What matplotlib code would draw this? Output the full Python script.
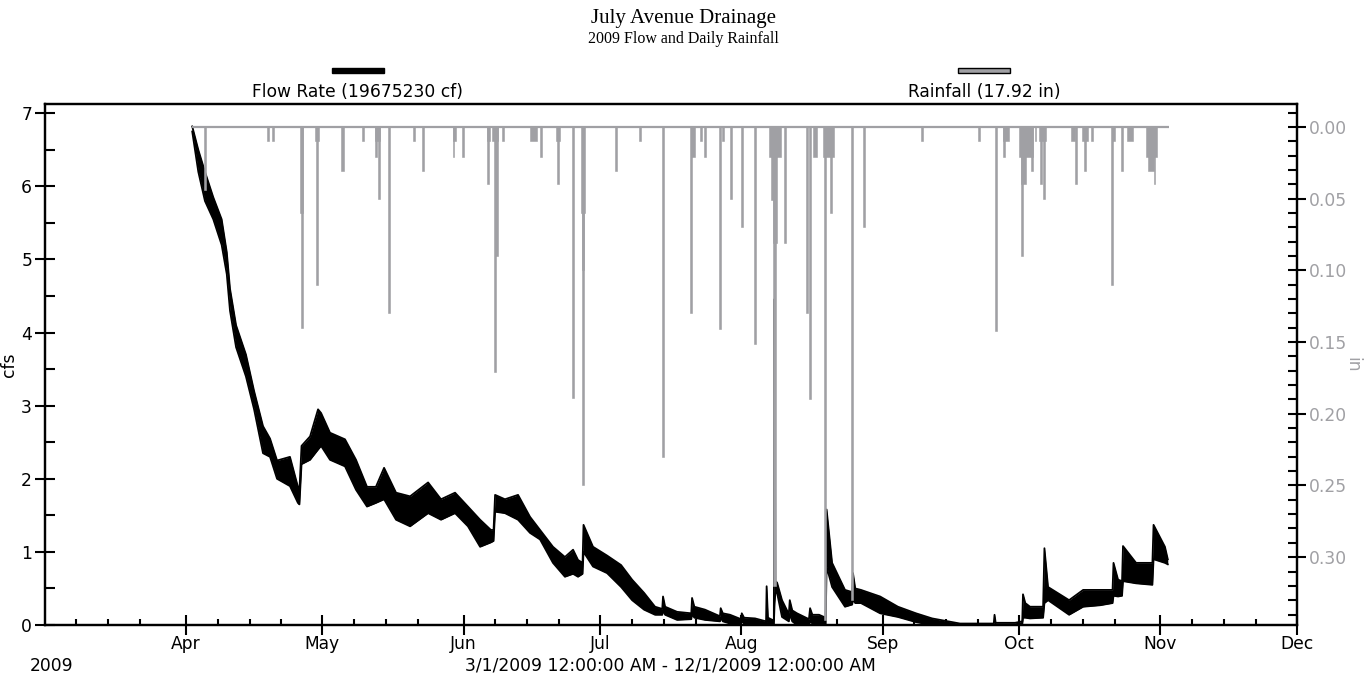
import matplotlib
matplotlib.use("Agg")
import matplotlib.pyplot as plt
import matplotlib.dates as mdates
from matplotlib.patches import Rectangle
from matplotlib.ticker import FixedLocator, FormatStrFormatter
import pandas as pd

# ---------------------------------------------------------------------------
# Flow record (cfs): low / high envelope of the logged series at sample times
# ---------------------------------------------------------------------------
flow_time = [
    "2009-04-02 10:00", "2009-04-03 18:00", "2009-04-05 05:00", "2009-04-07 01:00",
    "2009-04-08 21:00", "2009-04-10 00:00", "2009-04-10 17:00", "2009-04-12 01:00",
    "2009-04-14 05:00", "2009-04-16 00:00", "2009-04-17 23:00", "2009-04-19 12:00",
    "2009-04-21 01:00", "2009-04-23 21:00", "2009-04-25 15:00", "2009-04-25 23:00",
    "2009-04-26 10:00", "2009-04-28 07:00", "2009-04-30 01:00", "2009-04-30 17:00",
    "2009-05-02 16:00", "2009-05-05 23:00", "2009-05-08 09:00", "2009-05-10 19:00",
    "2009-05-12 18:00", "2009-05-14 13:00", "2009-05-17 04:00", "2009-05-20 06:00",
    "2009-05-24 05:00", "2009-05-27 01:00", "2009-05-30 03:00", "2009-06-01 23:00",
    "2009-06-04 15:00", "2009-06-07 00:00", "2009-06-07 14:00", "2009-06-07 22:00",
    "2009-06-10 02:00", "2009-06-12 23:00", "2009-06-15 14:00", "2009-06-17 19:00",
    "2009-06-20 15:00", "2009-06-23 06:00", "2009-06-25 01:00", "2009-06-26 03:00",
    "2009-06-27 03:00", "2009-06-27 08:00", "2009-06-29 10:00", "2009-07-02 12:00",
    "2009-07-05 14:00", "2009-07-08 00:00", "2009-07-10 15:00", "2009-07-13 01:00",
    "2009-07-14 15:00", "2009-07-14 19:00", "2009-07-15 06:00", "2009-07-17 21:00",
    "2009-07-21 00:00", "2009-07-21 04:00", "2009-07-21 16:00", "2009-07-24 00:00",
    "2009-07-27 07:00", "2009-07-27 11:00", "2009-07-27 22:00", "2009-07-29 12:00",
    "2009-07-31 22:00", "2009-08-01 02:00", "2009-08-01 14:00", "2009-08-04 00:00",
    "2009-08-06 10:00", "2009-08-06 13:00", "2009-08-06 20:00", "2009-08-08 03:00",
    "2009-08-08 07:00", "2009-08-08 11:00", "2009-08-08 20:00", "2009-08-09 22:00",
    "2009-08-11 10:00", "2009-08-11 15:00", "2009-08-12 04:00", "2009-08-13 05:00",
    "2009-08-15 20:00", "2009-08-16 02:00", "2009-08-16 14:00", "2009-08-18 01:00",
    "2009-08-19 12:00", "2009-08-19 17:00", "2009-08-20 22:00", "2009-08-23 18:00",
    "2009-08-25 08:00", "2009-08-25 12:00", "2009-08-26 00:00", "2009-08-27 06:00",
    "2009-08-31 11:00", "2009-09-04 09:00", "2009-09-08 08:00", "2009-09-11 21:00",
    "2009-09-18 00:00", "2009-09-25 10:00", "2009-09-25 14:00", "2009-09-25 20:00",
    "2009-09-30 02:00", "2009-10-01 16:00", "2009-10-01 20:00", "2009-10-02 08:00",
    "2009-10-03 09:00", "2009-10-06 06:00", "2009-10-06 13:00", "2009-10-07 08:00",
    "2009-10-11 23:00", "2009-10-15 01:00", "2009-10-18 18:00", "2009-10-21 12:00",
    "2009-10-21 17:00", "2009-10-22 17:00", "2009-10-23 14:00", "2009-10-23 19:00",
    "2009-10-26 16:00", "2009-10-30 06:00", "2009-10-30 12:00", "2009-11-02 00:00",
    "2009-11-02 15:00",
]
flow_low = [
    6.75, 6.20, 5.80, 5.55, 5.20, 4.80, 4.30, 3.80, 3.40, 2.95, 2.35, 2.30,
    2.00, 1.90, 1.67, 1.65, 2.20, 2.26, 2.40, 2.45, 2.26, 2.17, 1.85, 1.62,
    1.67, 1.72, 1.44, 1.35, 1.53, 1.44, 1.53, 1.35, 1.07, 1.13, 1.15, 1.55,
    1.53, 1.44, 1.26, 1.17, 0.85, 0.66, 0.70, 0.66, 0.70, 1.00, 0.80, 0.71,
    0.52, 0.34, 0.21, 0.14, 0.14, 0.20, 0.14, 0.07, 0.08, 0.15, 0.10, 0.07,
    0.05, 0.10, 0.05, 0.02, 0.02, 0.05, 0.02, 0.00, 0.00, 0.05, 0.00, 0.00,
    0.30, 0.44, 0.44, 0.11, 0.05, 0.15, 0.05, 0.00, 0.00, 0.05, 0.02, 0.02,
    0.00, 0.80, 0.52, 0.25, 0.28, 0.35, 0.30, 0.30, 0.16, 0.11, 0.04, 0.00,
    0.00, 0.00, 0.00, 0.00, 0.00, 0.00, 0.10, 0.10, 0.09, 0.10, 0.30, 0.34,
    0.14, 0.25, 0.27, 0.30, 0.40, 0.39, 0.40, 0.60, 0.57, 0.55, 0.90, 0.85,
    0.83,
]
flow_high = [
    6.82, 6.50, 6.20, 5.85, 5.55, 5.10, 4.60, 4.10, 3.70, 3.20, 2.72, 2.55,
    2.25, 2.30, 1.89, 1.85, 2.45, 2.58, 2.95, 2.90, 2.63, 2.54, 2.26, 1.89,
    1.89, 2.15, 1.81, 1.76, 1.95, 1.72, 1.81, 1.62, 1.44, 1.30, 1.30, 1.78,
    1.72, 1.78, 1.48, 1.30, 1.07, 0.93, 1.03, 0.89, 0.85, 1.37, 1.07, 0.95,
    0.82, 0.62, 0.44, 0.25, 0.22, 0.39, 0.25, 0.18, 0.16, 0.37, 0.25, 0.21,
    0.12, 0.23, 0.16, 0.14, 0.08, 0.16, 0.10, 0.09, 0.05, 0.53, 0.10, 0.06,
    4.46, 0.60, 0.58, 0.34, 0.15, 0.34, 0.20, 0.16, 0.08, 0.23, 0.14, 0.14,
    0.10, 1.58, 0.85, 0.48, 0.45, 0.71, 0.50, 0.48, 0.39, 0.25, 0.16, 0.09,
    0.02, 0.02, 0.14, 0.03, 0.03, 0.05, 0.42, 0.30, 0.25, 0.25, 1.05, 0.52,
    0.34, 0.48, 0.48, 0.48, 0.85, 0.62, 0.60, 1.08, 0.85, 0.85, 1.37, 1.07,
    0.90,
]

# ---------------------------------------------------------------------------
# Rainfall (in): recorded bursts with their depth and duration in hours
# ---------------------------------------------------------------------------
rain_time = [
    "2009-04-05 05:00", "2009-04-19 01:00", "2009-04-20 04:00", "2009-04-26 12:00",
    "2009-04-26 12:00", "2009-04-29 20:00", "2009-04-29 20:00", "2009-05-05 10:00",
    "2009-05-09 22:00", "2009-05-13 00:00", "2009-05-12 17:00", "2009-05-13 10:00",
    "2009-05-15 15:00", "2009-05-21 02:00", "2009-05-23 02:00", "2009-05-29 19:00",
    "2009-05-29 23:00", "2009-05-31 21:00", "2009-06-06 10:00", "2009-06-06 09:00",
    "2009-06-07 23:00", "2009-06-08 05:00", "2009-06-07 21:00", "2009-06-09 16:00",
    "2009-06-16 08:00", "2009-06-18 00:00", "2009-06-21 16:00", "2009-06-21 16:00",
    "2009-06-25 01:00", "2009-06-27 07:00", "2009-06-27 07:00", "2009-06-27 07:00",
    "2009-07-04 12:00", "2009-07-09 18:00", "2009-07-14 20:00", "2009-07-20 23:00",
    "2009-07-21 09:00", "2009-07-23 03:00", "2009-07-24 02:00", "2009-07-27 05:00",
    "2009-07-27 22:00", "2009-07-29 19:00", "2009-08-01 02:00", "2009-08-04 01:00",
    "2009-08-08 08:00", "2009-08-08 01:00", "2009-08-08 08:00", "2009-08-08 07:00",
    "2009-08-10 16:00", "2009-08-15 09:00", "2009-08-16 00:00", "2009-08-17 04:00",
    "2009-08-20 04:00", "2009-08-19 09:00", "2009-08-20 17:00", "2009-08-25 06:00",
    "2009-08-28 00:00", "2009-09-09 15:00", "2009-09-22 06:00", "2009-09-25 21:00",
    "2009-09-27 17:00", "2009-09-28 02:00", "2009-10-02 12:00", "2009-10-01 23:00",
    "2009-10-01 14:00", "2009-10-03 18:00", "2009-10-04 14:00", "2009-10-06 03:00",
    "2009-10-05 17:00", "2009-10-06 09:00", "2009-10-12 20:00", "2009-10-13 12:00",
    "2009-10-15 11:00", "2009-10-15 09:00", "2009-10-16 22:00", "2009-10-21 17:00",
    "2009-10-21 10:00", "2009-10-23 13:00", "2009-10-25 08:00", "2009-10-30 02:00",
    "2009-10-29 22:00", "2009-10-30 17:00",
]
rain_depth = [
    0.044, 0.010, 0.010, 0.140, 0.060, 0.110, 0.010, 0.031,
    0.010, 0.010, 0.021, 0.050, 0.130, 0.010, 0.031, 0.021,
    0.010, 0.021, 0.010, 0.040, 0.010, 0.090, 0.171, 0.010,
    0.010, 0.021, 0.040, 0.010, 0.189, 0.250, 0.100, 0.060,
    0.031, 0.010, 0.230, 0.130, 0.021, 0.010, 0.021, 0.141,
    0.010, 0.050, 0.070, 0.151, 0.021, 0.051, 0.081, 0.320,
    0.081, 0.130, 0.190, 0.021, 0.021, 0.344, 0.060, 0.330,
    0.070, 0.010, 0.010, 0.142, 0.021, 0.010, 0.021, 0.040,
    0.090, 0.031, 0.010, 0.010, 0.040, 0.050, 0.010, 0.040,
    0.010, 0.031, 0.010, 0.010, 0.110, 0.031, 0.010, 0.021,
    0.031, 0.040,
]
rain_hours = [
    10, 10, 10, 10, 16, 10, 20, 16,
    10, 26, 10, 10, 10, 10, 10, 10,
    18, 10, 18, 10, 32, 14, 10, 10,
    35, 10, 10, 20, 10, 10, 12, 21,
    10, 10, 10, 10, 22, 10, 10, 10,
    10, 10, 10, 10, 64, 26, 24, 12,
    10, 10, 10, 21, 60, 10, 10, 10,
    10, 10, 10, 10, 10, 32, 75, 26,
    10, 10, 10, 40, 10, 10, 20, 10,
    30, 10, 10, 20, 10, 10, 30, 60,
    30, 10,
]
rain_start = "2009-04-02 10:00"
rain_end = "2009-11-02 22:00"

period_start = "2009-03-01"
period_end = "2009-12-01"

title = "July Avenue Drainage"
subtitle = "2009 Flow and Daily Rainfall"
flow_total_cf = 19675230
rain_total_in = 17.92
flow_unit = "cfs"
rain_unit = "in"
flow_ticks = [0, 1, 2, 3, 4, 5, 6, 7]
rain_ticks = [0.00, 0.05, 0.10, 0.15, 0.20, 0.25, 0.30]

GREY = "#a0a0a4"
SANS = "DejaVu Sans"
SERIF = "Liberation Serif"
FS = 12.3

W_PX, H_PX = 1367, 679
fig = plt.figure(figsize=(W_PX / 100, H_PX / 100), dpi=100)

# plot frame in pixels
x0, x1 = 44.6, 1297.0
y_top, y_bot = 104.5, 625.0
ax = fig.add_axes([x0 / W_PX, 1 - y_bot / H_PX, (x1 - x0) / W_PX, (y_bot - y_top) / H_PX])


def dnum(values):
    return mdates.date2num(pd.to_datetime(values).to_pydatetime())


# flow band
t_flow = dnum(flow_time)
ax.fill_between(t_flow, flow_low, flow_high, color="black", lw=0)
ax.plot(t_flow, flow_low, color="black", lw=1.3)
ax.plot(t_flow, flow_high, color="black", lw=1.3)

ax.set_xlim(dnum([period_start])[0], dnum([period_end])[0])
ax.set_ylim(0, 7.12)

# rainfall hangs from the top on an inverted axis
ax2 = ax.twinx()
t_rain = dnum(rain_time)
ax2.hlines(0, dnum([rain_start])[0], dnum([rain_end])[0], color=GREY, lw=1.6)
ax2.bar(t_rain, rain_depth, width=[h / 24 for h in rain_hours], bottom=0,
        color=GREY, edgecolor=GREY, linewidth=0.4, align="center")
ax2.set_ylim(0.3473, -0.0157)

# axes styling
for a in (ax, ax2):
    for s in a.spines.values():
        s.set_linewidth(1.6)
        s.set_color("black")

ax.xaxis.set_major_locator(mdates.MonthLocator(bymonth=range(4, 13)))
ax.xaxis.set_major_formatter(mdates.DateFormatter("%b"))
ax.xaxis.set_minor_locator(mdates.DayLocator(bymonthday=[8, 15, 22]))
ax.tick_params(axis="x", which="major", direction="inout", length=14, width=1.5,
               pad=0.5, labelsize=FS)
ax.tick_params(axis="x", which="minor", direction="in", length=4.5, width=1.5)

ax.yaxis.set_major_locator(FixedLocator(flow_ticks))
ax.yaxis.set_minor_locator(FixedLocator([v + 0.5 for v in flow_ticks[:-1]]))
ax.tick_params(axis="y", which="major", direction="inout", length=14, width=1.5,
               pad=2, labelsize=FS)
ax.tick_params(axis="y", which="minor", direction="in", length=7, width=1.5)

ax2.yaxis.set_major_locator(FixedLocator(rain_ticks))
ax2.yaxis.set_major_formatter(FormatStrFormatter("%.2f"))
ax2.yaxis.set_minor_locator(FixedLocator([i / 100 for i in range(-1, 35)]))
ax2.tick_params(axis="y", which="major", direction="inout", length=13, width=1.5,
                pad=2, labelsize=FS, labelcolor=GREY)
ax2.tick_params(axis="y", which="minor", direction="in", length=6.5, width=1.5)

for lab in ax.get_xticklabels() + ax.get_yticklabels() + ax2.get_yticklabels():
    lab.set_fontfamily(SANS)

ax.set_ylabel(flow_unit, family=SANS, fontsize=FS)
ax.yaxis.set_label_coords((18 - x0) / (x1 - x0), 0.5)
ax2.set_ylabel(rain_unit, family=SANS, fontsize=FS, color=GREY, rotation=-90,
               va="center", ha="center")
ax2.yaxis.set_label_coords((1352 - x0) / (x1 - x0), 0.5)

# titles
fig.text(0.5, 1 - 18 / H_PX, title, ha="center", va="center", family=SERIF, fontsize=15)
fig.text(0.5, 1 - 39 / H_PX, subtitle, ha="center", va="center", family=SERIF, fontsize=11.5)


def fx(px):
    return px / W_PX


def fy(py):
    return 1 - py / H_PX


# legend: swatch above each caption, at a quarter and three quarters of the frame
sw_w, sw_h = 52, 5
for frac, caption, face, edge in [
    (0.25, f"Flow Rate ({flow_total_cf} cf)", "black", "black"),
    (0.75, f"Rainfall ({rain_total_in:.2f} in)", GREY, "black"),
]:
    cx = x0 + frac * (x1 - x0)
    fig.patches.append(Rectangle((fx(cx - sw_w / 2), fy(73)), fx(sw_w), sw_h / H_PX,
                                 transform=fig.transFigure, facecolor=face,
                                 edgecolor=edge, linewidth=1.0))
    fig.text(fx(cx), fy(92), caption, ha="center", va="center", family=SANS, fontsize=FS)

# period caption under the time axis
fig.text(fx(30), fy(666), "2009", ha="left", va="center", family=SANS, fontsize=FS)
fig.text(fx((x0 + x1) / 2), fy(666), "3/1/2009 12:00:00 AM - 12/1/2009 12:00:00 AM",
         ha="center", va="center", family=SANS, fontsize=FS)

fig.savefig("out.png", dpi=100)
